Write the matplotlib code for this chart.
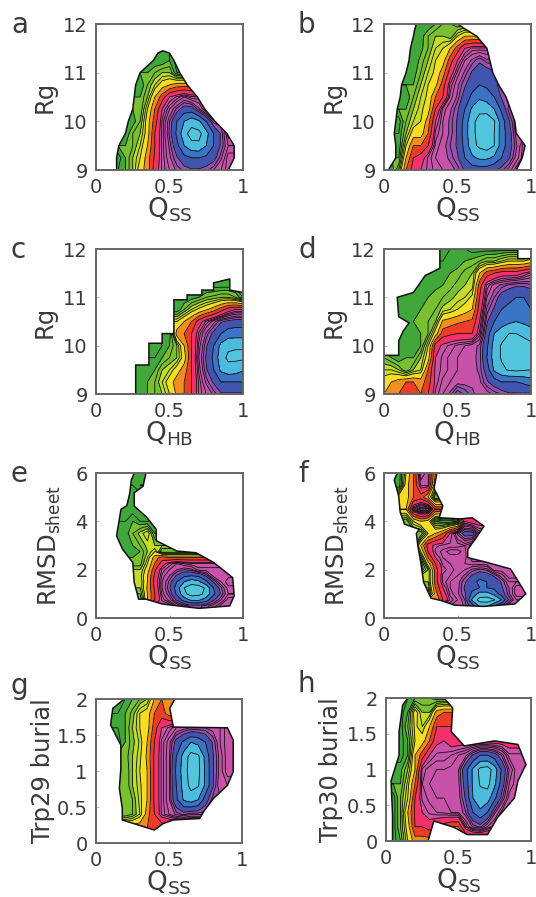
import matplotlib
matplotlib.use('Agg')
import matplotlib.pyplot as plt
from matplotlib.colors import ListedColormap, BoundaryNorm
import numpy as np

E = 14  # empty bin, outside the last contour

q_bins = [0, .05, .1, .15, .2, .25, .3, .35, .4, .45, .5, .55, .6, .65, .7, .75, .8, .85, .9, .95, 1]
rg_bins = [9, 9.25, 9.5, 9.75, 10, 10.25, 10.5, 10.75, 11, 11.25, 11.5, 11.75, 12]
rmsd_bins = [0, .25, .5, .75, 1, 1.25, 1.5, 1.75, 2, 2.25, 2.5, 2.75, 3, 3.5, 4, 4.5, 5, 5.5, 6]
burial_bins = [0, .2, .4, .6, .8, 1, 1.2, 1.4, 1.6, 1.8, 2]

# free energy level per bin, rows go bottom to top
a_rows = [
    [E]*3 + [12.5, 12, 11, 9.5, 8.5, 6.5, 5.5, 5, 4.5, 4.2, 4, 4, 4.2, 4.6, 5, 5.5],
    [E]*3 + [12.8, 12, 11, 10, 8.5, 6.8, 5.5, 4.7, 4, 3.3, 3, 3, 3.2, 3.6, 4.5, 5.5],
    [E]*4 + [12, 11.5, 10.5, 9, 7, 5.5, 4.5, 3.3, 2, 1.3, 1.2, 2, 3, 4, 5],
    [E]*4 + [12.5, 11.5, 11, 9.5, 7, 5.5, 4.2, 2.8, 1.3, .6, .7, 1.6, 3, 4, 5.5],
    [E]*5 + [12.3, 11.5, 9.5, 7.5, 5.5, 4.3, 3, 2, 1.4, 1.8, 3, 4.5],
    [E]*5 + [13, 12, 10, 8, 6, 5, 4.2, 3.5, 3.5, 4.5, 5.5],
    [E]*5 + [13, 12, 11, 9, 7.5, 6, 5.5, 5, 5.5],
    [E]*6 + [12.5, 11.5, 10.5, 9.5, 9, 8.5],
    [E]*6 + [13, 12, 11.5, 11, 11, 12.5],
    [E]*8 + [13, 12.5, 12, 12.8],
    [],
    [],
    [],
]
b_rows = [
    [E, 12.5, 11, 8, 6.5, 6, 5.5, 5.2, 5, 4.8, 4.5, 3.8, 3.5, 3.5, 3.5, 3.8, 4.2, 4.8, 5.5],
    [E, 13, 12, 9, 7, 6.5, 5.5, 5, 4.8, 4.5, 4, 3, 2.2, 1.8, 1.8, 2.2, 3, 3.8, 4.8, 5.5],
    [E, E, 12.5, 10, 8, 8, 7, 5.2, 4.8, 4.3, 3.8, 2.7, 1.3, .8, .5, 1, 2.5, 3.5, 4.5, 5.5],
    [E, E, 12.5, 11, 9.5, 9.5, 8, 5.5, 5, 4.5, 3.8, 2.5, 1.2, .7, .8, 1, 2.5, 3.5, 4.8],
    [E, E, 12.8, 11.5, 10.5, 10, 8.5, 6, 5, 4.5, 3.8, 2.6, 1.2, .7, .5, .9, 2.5, 3.8, 5],
    [E, E, 13, 12, 11, 10.2, 9.5, 7, 5.2, 4.7, 4, 3, 1.8, 1.2, 1.3, 2, 3.2, 4.5],
    [E, E, E, 12.5, 11.5, 10.5, 9.8, 8, 7, 5.2, 4.5, 3.5, 2.8, 2.2, 2.5, 3, 4],
    [E, E, E, 13, 12, 11, 10, 9.3, 7.5, 5.5, 4.7, 4, 3.3, 3, 3.2, 3.5, 4.5],
    [E, E, E, 13, 12.3, 11.5, 10.5, 9.8, 8.5, 6.5, 5.2, 4.5, 3.8, 3.5, 3.5, 3.8],
    [E, E, E, E, 12.5, 11.8, 11, 10, 9.5, 7.5, 6, 5, 4.5, 4, 4.5],
    [E, E, E, 13, 13, 12.2, 11.5, 10.5, 10, 9, 7.5, 6, 5.5, 5.5],
    [E, E, E, E, 13, 12.3, 11.5, 11, 11, 11.5, 10, 9],
    [E, E, E, E, E, 13, 12.5, 12, 11.5, 11.5, 12, 13],
]
c_rows = [
    [E]*6 + [12.5, 12, 11.5, 11, 10, 8.8, 8, 7, 5.5, 5, 4.5, 4, 4, 4, 4],
    [E]*6 + [12.5, 12, 11.5, 10.5, 9.5, 8.5, 8, 7, 5.5, 4.5, 3.8, 3, 3, 3, 3],
    [E]*6 + [13, 12.5, 12, 11, 10.5, 9.5, 8.5, 7, 5.2, 4, 3, 1.8, 1.4, 1.5, 1.9],
    [E]*7 + [13, 12.5, 12, 11.5, 11, 9.5, 7, 5, 3.8, 2.8, 1.4, .8, .8, .8],
    [E]*7 + [13, 12.8, 12.5, 12, 11, 9, 7, 5.2, 4, 3, 1.7, 1.2, 1.1, 1.1],
    [E]*9 + [13, 12.5, 8.5, 8, 7, 5.5, 4.5, 3.7, 3, 2.5, 2.5, 2.5],
    [E]*10 + [13.5, 10, 9, 8, 6.5, 5.5, 4.8, 4, 3.7, 3.5, 3.5],
    [E]*11 + [12.5, 11.5, 10.5, 9.8, 9.2, 8.5, 7.5, 6.5, 6, 6],
    [E]*11 + [13, 12.5, 12.3, 12, 11.5, 11.3, 11, 11, 11.5, 12.5],
    [E]*15 + [13.3, 13, 12.8, 12.8],
    [],
    [],
    [],
]
d_rows = [
    [9, 9, 8, 7.5, 7.5, 8, 7, 5.5, 5, 4.5, 3.5, 4, 4.5, 4.8, 4.8, 4.5, 4.3, 4, 4, 4, 4],
    [9.5, 9, 8.5, 8, 8, 8.5, 7.5, 5.8, 5.2, 5, 4.8, 4.8, 4.7, 4.7, 4, 3.5, 3, 3, 3, 2.8, 2.5],
    [10.5, 10.5, 11, 12, 11, 10.5, 8, 5.8, 5.5, 5.2, 5, 5, 4.8, 4.5, 3.5, 1.8, 1.2, .9, .8, .9, 1],
    [11.5, 12, 12.5, 12, 12, 11, 9.5, 6, 5.5, 5.2, 5, 4.8, 4.7, 4.5, 3, 1.5, .9, .6, .5, .7, .9],
    [E, E, E, 13, 12.5, 12, 10, 6.5, 5.8, 5.5, 5.2, 5, 4.8, 4.5, 3.2, 1.5, .9, .6, .5, .6, .8],
    [E, E, E, 13, 12.5, 12, 11.5, 9.5, 7.5, 7.2, 7, 7, 7, 5.5, 3.5, 2, 1.4, 1, 1, 1.2, 1.4],
    [E, E, 13, 12.5, 12, 11.8, 11.5, 11, 8.8, 8.5, 8.2, 8, 7.8, 6, 4, 3, 2.5, 2.2, 2, 2.2, 2.5],
    [E, E, 13, 12.5, 12.3, 12, 11.8, 11.5, 10.8, 10.5, 10, 9.5, 9, 6.5, 4.5, 3.8, 3, 2.8, 2.8, 2.8, 3],
    [E, E, 13, 12.5, 12.3, 12.2, 12, 11.7, 11.5, 11.2, 10.8, 10.5, 9.8, 7, 5, 4.3, 3.5, 3.2, 3, 3, 3.2],
    [E]*5 + [13, 12.5, 12.2, 12, 11.7, 11.3, 11, 10.8, 7.5, 5.5, 4.8, 4.5, 4.2, 4, 4, 4.2],
    [E]*6 + [13, 12.5, 12.3, 12, 11.8, 11.3, 11, 9, 7.5, 7, 6.5, 6.5, 6.5, 6, 5.5],
    [E]*8 + [13, 12.5, 12.3, 12, 11.8, 11.5, 11, 11, 10.5, 10, 10, 10, 9.5],
    [E]*8 + [12.8, 12.5, 12.5, 12.5, 12.8, 13],
]
e_rows = [
    [],
    [],
    [E]*9 + [13.5, 6, 5, 4.5, 4.2, 4.2, 4.5, 4.8, 5.5, 13.5],
    [E]*5 + [13.5, 12, 9, 7, 5.5, 4.8, 3.8, 2.5, 1.8, 1.8, 2.5, 3.8, 4.6, 5.5],
    [E]*5 + [13.5, 11.5, 9, 7, 5.2, 4.3, 2.8, 1.2, .6, .7, 1.3, 2.8, 4, 5, 13.5],
    [E]*5 + [13.5, 11, 8.8, 6.8, 5, 4, 2.5, 1, .5, .5, 1.2, 3, 4.2, 5.2, 13.5],
    [E]*5 + [13.5, 11, 9, 6.5, 5, 4.2, 3, 2, 1.4, 1.8, 2.8, 4, 5, 5.5],
    [E]*5 + [13, 10.8, 9, 6.8, 5.2, 4.6, 3.8, 3.2, 3, 3.2, 4, 5.2],
    [E]*5 + [13, 11, 9.5, 7.2, 5.5, 5, 4.6, 4.3, 4.5, 5.2],
    [E]*5 + [13, 11.8, 10, 8, 6.5, 5.5, 5, 5.3, 5.5, 13.5],
    [E]*5 + [13, 12, 10.5, 8.5, 7.5, 8, 13.5],
    [E]*4 + [13.5, 12.5, 12, 11, 10, 12, 13.5],
    [E]*3 + [13.5, 12.5, 12, 11.5, 10.8, 11, 13.5],
    [E]*3 + [13, 12.3, 11.5, 10.8, 10, 12, 13.5],
    [E]*3 + [13, 12.5, 12, 12.5, 13.5],
    [E]*5 + [12.8],
    [E]*5 + [12.8],
    [E]*5 + [12.5, 12, 13.5],
    [E]*6 + [12.5],
]
f_rows = [
    [],
    [],
    [E]*9 + [13.5, 5, 4.5, 3.5, 1.8, 1.8, 3, 4, 5, 13.5],
    [E]*6 + [13.5, 9, 7, 5.5, 5, 4.3, 1.8, .6, .5, .9, 2, 4, 5, 13.5],
    [E]*5 + [13.5, 12, 8.5, 6.5, 5.2, 4.7, 4, 2.8, 1.6, 1.6, 2.3, 3.5, 4.5, 5.5, 13.5],
    [E]*5 + [13.5, 11.5, 8, 6, 5, 4.8, 3.8, 3.2, 3, 3, 3.2, 3.8, 4.6, 5.5],
    [E]*5 + [13, 11, 7.5, 5.5, 5, 4.8, 4, 3.3, 2.8, 3, 3.3, 4, 5, 13.5],
    [E]*5 + [13, 11, 7.5, 5.5, 5.3, 5, 4.5, 3.8, 3.3, 3.5, 4, 4.8, 5.5],
    [E]*4 + [13.5, 12.5, 11, 7.5, 5.8, 5.4, 5.2, 5, 4.5, 4.2, 4.4, 5.5, 13.5],
    [E]*4 + [13.5, 12.5, 9.5, 7, 5.5, 5.3, 5.2, 5.3, 5.5, 13.5],
    [E]*4 + [13, 11.5, 8, 6, 5.3, 5.2, 5.2, 5.2, 5.8, 13.5],
    [E]*4 + [12.5, 10, 7, 5.5, 5.2, 4.8, 4.8, 5.2, 6, 13.5],
    [E]*4 + [12, 9, 6.5, 5.7, 5.5, 5.5, 5.5, 5.3, 5.8, 13.5],
    [E]*4 + [13.5, 12, 10, 9, 8, 6, 4.5, 3.5, 3.5, 5, 13.5],
    [E]*2 + [13.5, 12, 10, 9, 9.5, 12, 12.5, 12.5, 12, 6, 6.5, 13.5],
    [E]*2 + [13, 9, 5, 4, 4, 7, 13.5],
    [E]*2 + [13, 9.5, 8, 7.5, 9, 12, 13.5],
    [E]*2 + [12.5, 9.5, 8, 5.5, 5.5, 10, 12.8],
    [E]*2 + [12.5, 10, 8, 5, 5.5, 9, 12.8],
]
g_rows = [
    [],
    [E]*8 + [8, 13.5],
    [E]*3 + [13.5, 12, 11.5, 10.5, 8.5, 7, 5.5, 5, 4.5, 4.2, 4.5, 13.5],
    [E]*3 + [13.5, 12, 11.5, 10.3, 9, 6.8, 5.5, 4.7, 3.2, 1.9, 1.5, 2, 3.5, 4.5, 13.5],
    [E]*3 + [13.5, 12, 11, 10.2, 9, 6.8, 5.5, 4.7, 3, 1.6, .7, .9, 2.2, 3.8, 5, 13.5],
    [E]*3 + [13.5, 12, 11, 10, 9, 6.8, 5.5, 4.7, 2.8, 1.5, .5, .7, 2.2, 3.8, 4.8, 5.5, 13.5],
    [E]*3 + [13.5, 11.8, 11, 10.2, 8.8, 6.8, 5.5, 4.7, 3, 1.6, .6, .8, 2.3, 3.8, 4.8, 5.5],
    [E]*2 + [13.5, 12.8, 12, 11.2, 10.4, 9, 7, 5.5, 4.8, 3.6, 2.8, 2, 2.3, 3, 4, 5, 5.5],
    [E]*2 + [13.5, 12.5, 12, 11, 10, 9.5, 7.5, 6, 5.5, 5, 4.8, 4.6, 4.6, 4.6, 4.8, 5, 5.5],
    [E]*2 + [13.5, 12.5, 12, 11.3, 10, 9.5, 8, 7.5, 8.5],
    [E]*3 + [12.8, 12.5, 12, 11.5, 11, 9, 8, 9],
]
h_rows = [
    [E] + [12.8, 12, 10, 8.5, 8.5, 8.5],
    [E] + [12.8, 11.5, 9.5, 7, 7, 6.5, 7, 7.5, 8, 8, 5.5, 4.5, 4.2, 5, 5.5],
    [E] + [12.8, 11.5, 9, 6.8, 6, 5.5, 5.3, 5.2, 5, 5, 4.3, 3, 2.2, 3, 4.5, 5.5],
    [E] + [12.8, 11.5, 10, 7, 5.5, 5.2, 5, 5, 5, 4.8, 3.8, 2, 1.4, 1.5, 2.8, 4.2, 5.5],
    [E]*2 + [12, 10.3, 8, 5.3, 5, 5, 5, 4.9, 4.7, 3.5, 1.8, .9, .7, 1.8, 3.5, 5, 5.5],
    [E]*2 + [12.2, 11, 9, 5.5, 5.1, 5, 5, 4.9, 4.6, 3.3, 1.8, .7, .5, 1.5, 3.2, 4.6, 5.5, 5.5],
    [E]*2 + [12.8, 12, 9, 7.5, 6, 5.5, 5.5, 5.3, 5, 4.7, 3.8, 3, 3, 3.5, 4.4, 5.5, 5.5],
    [E]*2 + [12.8, 12, 10, 9.5, 8, 6.2, 6, 6.5],
    [E]*2 + [12.8, 11.5, 9.8, 10.5, 9, 7, 7, 7],
    [E]*2 + [12.8, 12, 9.5, 11, 11, 8.5, 8, 8],
    [E]*2 + [12.8, 12.5, 12, 12, 12, 12.5, 12.5],
]

# outline of the sampled region of each panel, read point by point
a_edge_q = [.14, .14, .155, .2, .22, .25, .26, .27, .3, .39, .42, .455, .5, .53, .57, .62, .69, .74, .81, .89, .94, .94, .9]
a_edge_y = [9, 9.25, 9.5, 9.75, 10, 10.25, 10.5, 10.75, 11, 11.25, 11.4, 11.45, 11.4, 11.25, 11, 10.75, 10.5, 10.25, 10, 9.75, 9.5, 9.25, 9]
b_edge_q = [.03, .08, .08, .07, .08, .09, .11, .12, .15, .17, .18, .2, .21, .22, .5, .55, .63, .7, .72, .74, .78, .83, .86, .89, .9, .96, .94, .9]
b_edge_y = [9, 9.25, 9.5, 9.75, 10, 10.25, 10.5, 10.75, 11, 11.25, 11.5, 11.75, 11.9, 12, 12, 11.9, 11.75, 11.5, 11.25, 11, 10.75, 10.5, 10.25, 10, 9.75, 9.5, 9.25, 9]
c_edge_q = [.27, .27, .36, .36, .45, .45, .53, .53, .62, .62, .72, .72, .8, .8, .91, .91, 1, 1]
c_edge_y = [9, 9.6, 9.6, 10.05, 10.05, 10.25, 10.25, 10.95, 10.95, 11.05, 11.05, 11.15, 11.15, 11.3, 11.38, 11.15, 11.1, 9]
d_edge_q = [0, 0, .1, .1, .13, .17, .1, .09, .2, .28, .38, .38, .62, .91, .91, 1, 1]
d_edge_y = [9, 9.8, 9.8, 10.1, 10.3, 10.47, 10.6, 11, 11.1, 11.45, 11.6, 12, 12, 11.97, 11.8, 11.8, 9]
e_edge_q = [.29, .26, .25, .18, .14, .17, .21, .23, .24, .26, .34, .32, .26, .26, .34, .41, .41, .55, .68, .8, .93, .94, .91, .7, .45, .34]
e_edge_y = [.78, 1.47, 2.3, 2.85, 3.4, 4.5, 4.65, 5.18, 5.7, 6, 6, 5.45, 5.18, 4.63, 4.2, 3.67, 3.2, 2.77, 2.7, 2.3, 1.67, .92, .5, .4, .58, .78]
f_edge_q = [.32, .27, .25, .23, .22, .24, .14, .11, .1, .07, .09, .36, .34, .4, .375, .52, .6, .68, .625, .57, .57, .7, .86, .91, .965, .89, .68, .48, .39]
f_edge_y = [.82, 1.47, 2.3, 3, 3.5, 3.67, 3.88, 4.38, 5.05, 5.7, 6, 6, 5.36, 4.63, 4.15, 4.1, 4.15, 3.8, 3.3, 2.84, 2.5, 2.3, 2.03, 1.55, 1, .58, .48, .53, .72]
g_edge_q = [.4, .18, .18, .16, .17, .17, .1, .115, .195, .54, .505, .53, .9, .94, .94, .9, .805, .735, .71, .53, .46]
g_edge_y = [.18, .32, .48, .76, 1.03, 1.36, 1.64, 1.87, 2, 2, 1.87, 1.61, 1.6, 1.43, .99, .8, .62, .43, .34, .32, .27]
h_edge_q = [.045, .045, .035, .09, .09, .115, .15, .4, .46, .45, .54, .75, .91, .965, .91, .885, .77, .7, .56, .47, .33, .29]
h_edge_y = [0, .37, .84, 1.2, 1.53, 1.9, 2, 2, 1.86, 1.53, 1.33, 1.4, 1.35, 1.07, .84, .6, .33, .09, .09, .19, .28, 0]

x_ticks = [0, .5, 1]
x_tick_labels = ['0', '0.5', '1']
rg_ticks = [9, 10, 11, 12]
rmsd_ticks = [0, 2, 4, 6]
burial_ticks = [0, .5, 1, 1.5, 2]
burial_tick_labels = ['0', '0.5', '1', '1.5', '2']

band_colors = ['#52C6DC', '#4CBCDE', '#3A74C6', '#3F55AE', '#9A50B2', '#C652AA', '#F2306C',
               '#EE3C28', '#F68C1E', '#FADC20', '#C4DC28', '#78C030', '#3FA838']
levels = [0, 1, 2, 3, 3.9, 4.6, 6, 7, 8, 9, 10, 11, 12, 14]
line_levels = [1, 2, 3, 3.9, 4.3, 4.6, 5, 5.3, 5.6, 6, 7, 8, 9, 10, 10.5, 11, 11.5, 12, 12.5]
cmap = ListedColormap(band_colors)
norm = BoundaryNorm(levels, cmap.N)

plt.rcParams['font.family'] = 'DejaVu Sans'
plt.rcParams['mathtext.fontset'] = 'dejavusans'
text_color = '#3a3a3a'

W, H = 536, 897
fig = plt.figure(figsize=(W / 100, H / 100), dpi=100)


def fill_empty(rows):
    # empty bins take the nearest real value so the bands run up to the outline
    z = np.full((len(rows), len(q_bins)), np.nan)
    for i, r in enumerate(rows):
        for j, v in enumerate(r):
            if v < 13:
                z[i, j] = v
    for i in range(len(z)):
        good = np.where(~np.isnan(z[i]))[0]
        if len(good) == 0:
            continue
        for j in range(len(q_bins)):
            if np.isnan(z[i, j]):
                z[i, j] = z[i, good[np.argmin(abs(good - j))]]
    filled = np.where(~np.isnan(z[:, 0]))[0]
    for i in range(len(z)):
        if np.isnan(z[i, 0]):
            z[i] = z[filled[np.argmin(abs(filled - i))]]
    return z


def panel(box, rows, edge_q, edge_y, y_bins, y_ticks, letter, xlabel, ylabel, y_labels=None,
          ylabel_x=57, letter_x=11, letter_y=None):
    left, top, right, bottom = box
    ax = fig.add_axes([left / W, 1 - bottom / H, (right - left) / W, (bottom - top) / H])
    z = fill_empty(rows)
    outline = ax.fill(edge_q, edge_y, facecolor='none', edgecolor='#111111', linewidth=1.1, zorder=3)[0]
    cf = ax.contourf(q_bins, y_bins, z, levels=levels, cmap=cmap, norm=norm, extend='both')
    cl = ax.contour(q_bins, y_bins, z, levels=line_levels, colors='#111111', linewidths=0.6)
    cf.set_clip_path(outline)
    cl.set_clip_path(outline)
    ax.set_xlim(0, 1)
    ax.set_ylim(y_bins[0], y_bins[-1])
    ax.set_xticks(x_ticks)
    ax.set_xticklabels(x_tick_labels)
    ax.set_yticks(y_ticks)
    if y_labels:
        ax.set_yticklabels(y_labels)
    ax.tick_params(direction='in', length=2, width=0.5, color='#999999', labelsize=14,
                   labelcolor=text_color, pad=6)
    for s in ax.spines.values():
        s.set_color('#666666')
        s.set_linewidth(1.4)
        s.set_zorder(5)
    ax.set_xlabel(xlabel, fontsize=19, color=text_color, labelpad=-1)
    ax.set_ylabel(ylabel, fontsize=17.5, color=text_color)
    ax.yaxis.set_label_coords((ylabel_x - left) / (right - left), 0.5)
    if letter_y is None:
        letter_y = top + 1
    fig.text(letter_x / W, 1 - letter_y / H, letter, fontsize=20, color=text_color, ha='left', va='center')
    return ax


q_ss = r'$\mathregular{Q_{SS}}$'
q_hb = r'$\mathregular{Q_{HB}}$'
rmsd_label = r'RMSD$\mathregular{_{sheet}}$'

panel((96, 24, 243, 170), a_rows, a_edge_q, a_edge_y, rg_bins, rg_ticks, 'a', q_ss, 'Rg')
panel((384, 24, 531, 170), b_rows, b_edge_q, b_edge_y, rg_bins, rg_ticks, 'b', q_ss, 'Rg', ylabel_x=346, letter_x=298)
panel((96, 249, 243, 394), c_rows, c_edge_q, c_edge_y, rg_bins, rg_ticks, 'c', q_hb, 'Rg')
panel((384, 249, 531, 394), d_rows, d_edge_q, d_edge_y, rg_bins, rg_ticks, 'd', q_hb, 'Rg', ylabel_x=346, letter_x=298)
panel((96, 473, 243, 618), e_rows, e_edge_q, e_edge_y, rmsd_bins, rmsd_ticks, 'e', q_ss, rmsd_label, ylabel_x=63)
panel((384, 473, 531, 618), f_rows, f_edge_q, f_edge_y, rmsd_bins, rmsd_ticks, 'f', q_ss, rmsd_label, ylabel_x=351, letter_x=298)
panel((96, 699, 242, 843), g_rows, g_edge_q, g_edge_y, burial_bins, burial_ticks, 'g', q_ss, 'Trp29 burial', burial_tick_labels,
      ylabel_x=55, letter_y=686)
panel((386, 698, 531, 841), h_rows, h_edge_q, h_edge_y, burial_bins, burial_ticks, 'h', q_ss, 'Trp30 burial', burial_tick_labels,
      ylabel_x=343, letter_x=298, letter_y=684)

fig.savefig('out.png', dpi=100)
